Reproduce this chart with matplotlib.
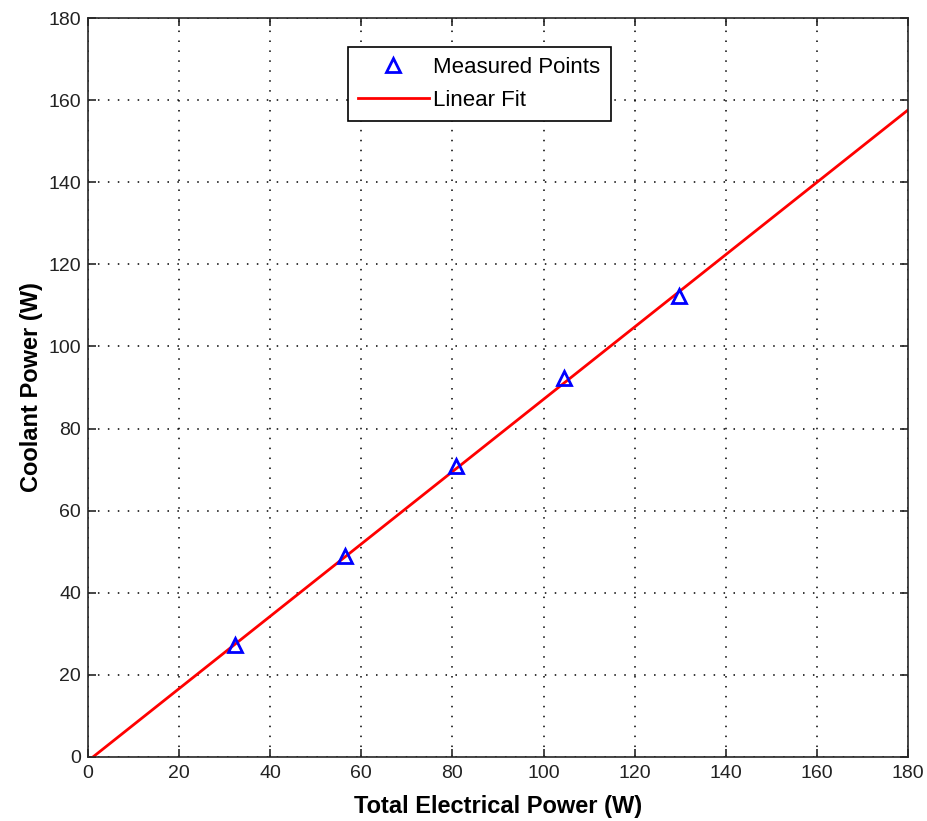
import matplotlib
matplotlib.use('Agg')
import matplotlib.pyplot as plt

plt.rcParams['font.family'] = ['Liberation Sans', 'DejaVu Sans']

# measured points
elec_power = [32.3, 56.4, 80.8, 104.5, 129.7]
coolant_power = [27.2, 49.0, 70.8, 92.4, 112.4]

# linear fit end points
fit_x = [1.1, 180]
fit_y = [0.0, 157.6]

fig = plt.figure(figsize=(9.28, 8.21), dpi=100)
ax = fig.add_axes([0.0948, 0.078, 0.8836, 0.900])

ax.plot(elec_power, coolant_power, '^', mfc='none', mec='blue', mew=2, ms=10,
        label='Measured Points', zorder=3)
ax.plot(fit_x, fit_y, '-', color='red', lw=2, label='Linear Fit', zorder=2)

ax.set_xlim(0, 180)
ax.set_ylim(0, 180)
ax.set_xticks(range(0, 181, 20))
ax.set_yticks(range(0, 181, 20))
ax.grid(True, linestyle=(0, (1, 5.5)), color='black', lw=1.1)
ax.tick_params(direction='in', length=6, width=1.2, labelsize=14, top=True, right=True,
               colors='#262626', labelcolor='#222222')
ax.tick_params(axis='x', pad=6)
ax.tick_params(axis='y', pad=5)
for s in ax.spines.values():
    s.set_color('#262626')
    s.set_linewidth(1.2)

ax.set_xlabel('Total Electrical Power (W)', fontsize=17, fontweight='bold', labelpad=9)
ax.set_ylabel('Coolant Power (W)', fontsize=17, fontweight='bold', labelpad=4)

leg = ax.legend(loc='upper left', bbox_to_anchor=(0.317, 0.961), borderaxespad=0,
                fontsize=16, fancybox=False, framealpha=1, edgecolor='black',
                borderpad=0.45, handlelength=3.2, labelspacing=0.55, handletextpad=0.2)
leg.get_frame().set_linewidth(1.2)

fig.savefig('out.png', dpi=100)
